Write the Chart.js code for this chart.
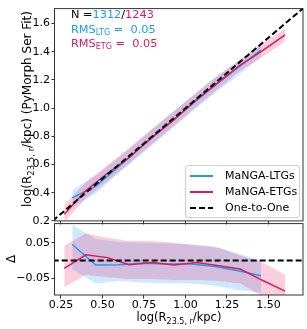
<!DOCTYPE html>
<html><head><meta charset="utf-8">
<script src="https://cdn.jsdelivr.net/npm/chart.js@4/dist/chart.umd.min.js"></script>
<style>
html,body{margin:0;padding:0;background:#fff;}
body{width:307px;height:329px;position:relative;overflow:hidden;font-family:"DejaVu Sans",sans-serif;color:#000;}
canvas{position:absolute;left:0;}
#cTop{top:0;} #cBot{top:215px;}
.txt{position:absolute;white-space:nowrap;font-size:11.5px;line-height:1;}
.sub{font-size:8px;position:relative;top:2.5px;}
.rot{transform:translate(-50%,-50%) rotate(-90deg);}
#legend{position:absolute;left:185px;top:165px;width:115px;height:53px;border:1px solid #d0d0d0;border-radius:3px;background:rgba(255,255,255,0.85);box-sizing:border-box;}
.lrow{position:absolute;left:4px;height:14px;width:110px;font-size:11px;line-height:14px;white-space:nowrap;}
.lline{position:absolute;left:0;top:6px;width:23px;height:2px;}
.ltxt{position:absolute;left:35px;top:0;white-space:nowrap;}
</style></head><body>
<canvas id="cTop" width="307" height="229"></canvas>
<canvas id="cBot" width="307" height="114"></canvas>

<div class="txt" style="left:71px;top:9px;font-size:11.3px;">N =<span style="color:#1a9cf0">1312</span>/<span style="color:#e0185c">1243</span></div>
<div class="txt" style="left:71px;top:23.5px;font-size:11.3px;color:#1a9cf0;">RMS<span class="sub">LTG</span> =&nbsp;&nbsp;0.05</div>
<div class="txt" style="left:71px;top:37.5px;font-size:11.3px;color:#e0185c;">RMS<span class="sub">ETG</span> =&nbsp;&nbsp;0.05</div>

<div class="txt rot" style="left:27px;top:109px;font-size:12px;">log(R<span class="sub" style="font-size:8.5px">23.5, r</span>/kpc) (PyMorph Ser Fit)</div>
<div class="txt rot" style="left:11px;top:259px;font-size:12px;">Δ</div>
<div class="txt" style="left:179px;top:318px;transform:translate(-50%,-50%);">log(R<span class="sub">23.5, r</span>/kpc)</div>

<div id="legend">
  <div class="lrow" style="top:3px"><div class="lline" style="background:#1a9cf0;height:1.6px"></div><span class="ltxt">MaNGA-LTGs</span></div>
  <div class="lrow" style="top:19px"><div class="lline" style="background:#e0185c;height:1.6px"></div><span class="ltxt">MaNGA-ETGs</span></div>
  <div class="lrow" style="top:35px"><div class="lline" style="background:repeating-linear-gradient(90deg,#000 0 6px,transparent 6px 9px);"></div><span class="ltxt">One-to-One</span></div>
</div>

<script>
// ---- data ----
const ltgX   = [0.318, 0.46, 0.60, 0.74, 0.89, 1.03, 1.17, 1.31, 1.455];
const ltgY   = [0.363, 0.447, 0.588, 0.732, 0.880, 1.020, 1.154, 1.282, 1.412];
const ltgYHi = [0.418, 0.520, 0.652, 0.790, 0.938, 1.075, 1.210, 1.330, 1.455];
const ltgYLo = [0.293, 0.395, 0.542, 0.678, 0.826, 0.965, 1.100, 1.227, 1.365];
const ltgD   = [0.045, -0.013, -0.012, -0.008, -0.010, -0.010, -0.016, -0.028, -0.043];
const ltgDHi = [0.100, 0.060, 0.052, 0.050, 0.048, 0.045, 0.040, 0.020, 0.000];
const ltgDLo = [-0.025, -0.065, -0.058, -0.062, -0.064, -0.065, -0.070, -0.083, -0.090];

const etgX   = [0.27, 0.40, 0.53, 0.66, 0.80, 0.93, 1.07, 1.20, 1.33, 1.46, 1.60];
const etgY   = [0.248, 0.416, 0.538, 0.648, 0.794, 0.917, 1.064, 1.185, 1.306, 1.405, 1.520];
const etgYHi = [0.312, 0.476, 0.594, 0.715, 0.855, 0.980, 1.112, 1.235, 1.344, 1.455, 1.565];
const etgYLo = [0.195, 0.360, 0.483, 0.608, 0.748, 0.875, 1.015, 1.142, 1.265, 1.360, 1.475];
const etgD   = [-0.022, 0.016, 0.008, -0.012, -0.006, -0.013, -0.006, -0.015, -0.024, -0.055, -0.086];
const etgDHi = [0.042, 0.076, 0.064, 0.055, 0.055, 0.050, 0.042, 0.035, 0.014, -0.005, -0.040];
const etgDLo = [-0.075, -0.040, -0.047, -0.052, -0.052, -0.055, -0.055, -0.058, -0.065, -0.100, -0.125];

const refX = [0.2, 1.75];
const refY = [0.2, 1.75];
const zeroY = [0, 0];

const xTicks = [0.25, 0.50, 0.75, 1.00, 1.25, 1.50];
const xTickLabels = ['0.25', '0.50', '0.75', '1.00', '1.25', '1.50'];
const yTopTicks = [0.2, 0.4, 0.6, 0.8, 1.0, 1.2, 1.4, 1.6];
const yTopTickLabels = ['0.2', '0.4', '0.6', '0.8', '1.0', '1.2', '1.4', '1.6'];
const yBotTicks = [-0.05, 0.05];
const yBotTickLabels = ['\u22120.05', '0.05'];

// ---- styles ----
const BLUE = '#1a9cf0', PINK = '#e0185c';
const BLUE_FILL = 'rgba(30,155,250,0.22)', PINK_FILL = 'rgba(232,30,100,0.22)';
const FONT = {family: 'DejaVu Sans', size: 11};

const pts = (xs, ys) => xs.map((x, i) => ({x, y: ys[i]}));

function frame() {
  return {
    id: 'frame',
    afterDraw(chart) {
      const {ctx, chartArea: a} = chart;
      ctx.save();
      ctx.strokeStyle = '#333';
      ctx.lineWidth = 1;
      ctx.strokeRect(a.left - 0.5, a.top + 0.5, a.right - a.left + 0.5, a.bottom - a.top - 0.5);
      ctx.restore();
    }
  };
}

function datasets(yLine, yHiL, yLoL, yHiE, yLoE, refYs) {
  return [
    {data: pts(refX, refYs), borderColor: '#000', borderWidth: 2, borderDash: [6, 3], pointRadius: 0, fill: false, order: 0},
    {data: pts(etgX, yLine.etg), borderColor: PINK, borderWidth: 1.5, pointRadius: 0, fill: false, order: 1},
    {data: pts(ltgX, yLine.ltg), borderColor: BLUE, borderWidth: 1.5, pointRadius: 0, fill: false, order: 2},
    {data: pts(ltgX, yHiL), borderWidth: 0, pointRadius: 0, backgroundColor: BLUE_FILL, fill: '+1', order: 5},
    {data: pts(ltgX, yLoL), borderWidth: 0, pointRadius: 0, fill: false, order: 6},
    {data: pts(etgX, yHiE), borderWidth: 0, pointRadius: 0, backgroundColor: PINK_FILL, fill: '+1', order: 3},
    {data: pts(etgX, yLoE), borderWidth: 0, pointRadius: 0, fill: false, order: 4}
  ];
}

function options(yMin, yMax, yTicks, yLabels, showX, xHeight, pad) {
  return {
    responsive: false, animation: false, devicePixelRatio: 1,
    layout: {padding: pad},
    plugins: {legend: {display: false}, tooltip: {enabled: false}},
    elements: {line: {tension: 0}},
    scales: {
      x: {
        type: 'linear', min: 0.214, max: 1.708,
        afterBuildTicks: s => { s.ticks = xTicks.map(v => ({value: v})); },
        afterFit: s => { s.height = xHeight; },
        grid: {display: true, drawOnChartArea: false, drawTicks: true, tickLength: 3.5, color: '#333'},
        border: {display: false},
        ticks: {display: showX, padding: 0, color: '#000', font: FONT, maxRotation: 0,
          callback: v => xTickLabels[xTicks.findIndex(t => Math.abs(t - v) < 1e-9)]}
      },
      y: {
        type: 'linear', min: yMin, max: yMax,
        afterBuildTicks: s => { s.ticks = yTicks.map(v => ({value: v})); },
        afterFit: s => { s.width = 55; },
        grid: {display: true, drawOnChartArea: false, drawTicks: true, tickLength: 3.5, color: '#333'},
        border: {display: false},
        ticks: {padding: 1.5, color: '#000', font: FONT,
          callback: v => yLabels[yTicks.findIndex(t => Math.abs(t - v) < 1e-9)]}
      }
    }
  };
}

new Chart(document.getElementById('cTop'), {
  type: 'line',
  data: {datasets: datasets({ltg: ltgY, etg: etgY}, ltgYHi, ltgYLo, etgYHi, etgYLo, refY)},
  options: options(0.2, 1.71, yTopTicks, yTopTickLabels, false, 7, {left: 0, right: 4, top: 5, bottom: 0}),
  plugins: [frame()]
});

new Chart(document.getElementById('cBot'), {
  type: 'line',
  data: {datasets: datasets({ltg: ltgD, etg: etgD}, ltgDHi, ltgDLo, etgDHi, etgDLo, zeroY)},
  options: options(-0.097, 0.105, yBotTicks, yBotTickLabels, true, 34, {left: 0, right: 4, top: 7, bottom: 0}),
  plugins: [frame()]
});
</script>
</body></html>
